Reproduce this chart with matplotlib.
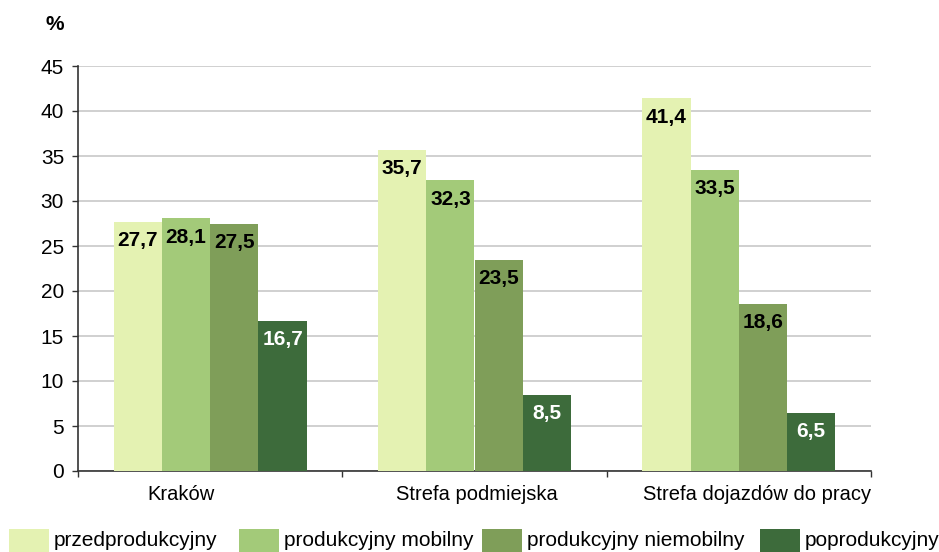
import numpy as np
import matplotlib
matplotlib.use('Agg')
import matplotlib.pyplot as plt
from matplotlib.patches import Rectangle

plt.rcParams['font.family'] = ['Liberation Sans', 'DejaVu Sans']

categories = ['Kraków', 'Strefa podmiejska', 'Strefa dojazdów do pracy']
series_names = ['przedprodukcyjny', 'produkcyjny mobilny', 'produkcyjny niemobilny', 'poprodukcyjny']
values = [
    [27.7, 35.7, 41.4],   # przedprodukcyjny
    [28.1, 32.3, 33.5],   # produkcyjny mobilny
    [27.5, 23.5, 18.6],   # produkcyjny niemobilny
    [16.7, 8.5, 6.5],     # poprodukcyjny
]
colors = ['#E4F2B2', '#A3CA79', '#7F9E59', '#3D6B3B']
label_colors = ['black', 'black', 'black', 'white']

W, H = 939, 552
fig = plt.figure(figsize=(W / 100, H / 100), dpi=100)
ax = fig.add_axes([78 / W, (H - 471) / H, 793 / W, 405 / H])

x = np.arange(len(categories))
bw = 0.1825
for i, (name, vals) in enumerate(zip(series_names, values)):
    pos = x + (i - 1.5) * bw
    ax.bar(pos, vals, width=bw, color=colors[i], zorder=3, linewidth=0)
    for px, v in zip(pos, vals):
        ax.annotate(f'{v:.1f}'.replace('.', ','), (px, v), xytext=(0, -19),
                    textcoords='offset pixels', ha='center', va='center',
                    fontsize=15, fontweight='bold', color=label_colors[i], zorder=4)

ax.set_xlim(-0.5, len(categories) - 0.5)
ax.set_ylim(0, 45)
ax.set_yticks(np.arange(0, 46, 5))
ax.yaxis.grid(True, color='#c8c8c8', linewidth=1.2, zorder=0)
ax.set_axisbelow(True)

ax.set_xticks(np.arange(-0.5, len(categories), 1.0))
ax.set_xticklabels([])
ax.tick_params(axis='x', which='major', direction='out', length=4, width=1, color='#333333')
ax.tick_params(axis='y', direction='out', length=4, width=1, color='#333333', pad=6, labelsize=15)

# category labels sit a little off-centre in the original (Excel squeeze)
cat_label_x = [-0.11, 1.01, 2.5]
cat_label_ha = ['center', 'center', 'right']
for cx, ha, name in zip(cat_label_x, cat_label_ha, categories):
    ax.annotate(name, (cx, 0), xycoords=('data', 'axes fraction'), xytext=(0, -14),
                textcoords='offset pixels', ha=ha, va='top', fontsize=14.5)

for s in ['top', 'right']:
    ax.spines[s].set_visible(False)
for s in ['left', 'bottom']:
    ax.spines[s].set_color('#333333')
    ax.spines[s].set_linewidth(1.2)

fig.text(55 / W, 1 - 25 / H, '%', ha='center', va='center', fontsize=15, fontweight='bold')

# legend along the bottom
leg_x = [9, 239, 482, 760]
for lx, name, c in zip(leg_x, series_names, colors):
    fig.add_artist(Rectangle((lx / W, 1 - 552 / H), 40 / W, 23 / H,
                             transform=fig.transFigure, color=c, linewidth=0))
    fig.text((lx + 45) / W, 1 - 540 / H, name, ha='left', va='center', fontsize=15)

fig.savefig('out.png', dpi=100)
